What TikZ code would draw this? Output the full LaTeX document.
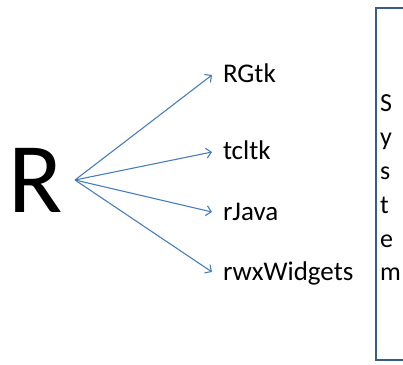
\documentclass[tikz,border=0pt]{standalone}
\usepackage{fontspec}
\setmainfont{Carlito}
\usetikzlibrary{arrows.meta}
\definecolor{arrowblue}{HTML}{4A7EBB}
\definecolor{boxblue}{HTML}{385D8A}

\begin{document}
\begin{tikzpicture}[x=1pt, y=1pt, line width=1.1pt, >={Straight Barb[length=5pt,width=10pt]},
    every node/.style={inner sep=0pt, outer sep=0pt},
    pkg/.style={anchor=west, font=\fontsize{27}{30}\selectfont, text height=16pt, text depth=0pt, inner xsep=11pt},
    fanout/.style={->, draw=arrowblue}]
    \useasboundingbox (0, 0) rectangle (403, 364);

    % Language
    \node[anchor=base west, font=\fontsize{100}{110}\selectfont] (lang) at (9, 152) {R};
    \coordinate (fan) at (75, 184);

    % GUI toolkits
    \node[pkg] (rgtk) at (212, 289) {RGtk};
    \node[pkg] (tcltk) at (212, 212) {tcltk};
    \node[pkg] (rjava) at (212, 152) {rJava};
    \node[pkg] (rwx) at (212, 92) {rwxWidgets};

    \foreach \y in {rgtk, tcltk, rjava, rwx}
    \draw[fanout] (fan) -- (\y.west);

    % System box, cut off at the right
    \node[draw=boxblue, line width=2pt, minimum width=48, minimum height=352] (system) at (400, 180) {};
    \node[anchor=west, align=left, font=\fontsize{26}{33.8}\selectfont] (word) at (380, 176) {S\\y\\s\\t\\e\\m};

\end{tikzpicture}
\end{document}
